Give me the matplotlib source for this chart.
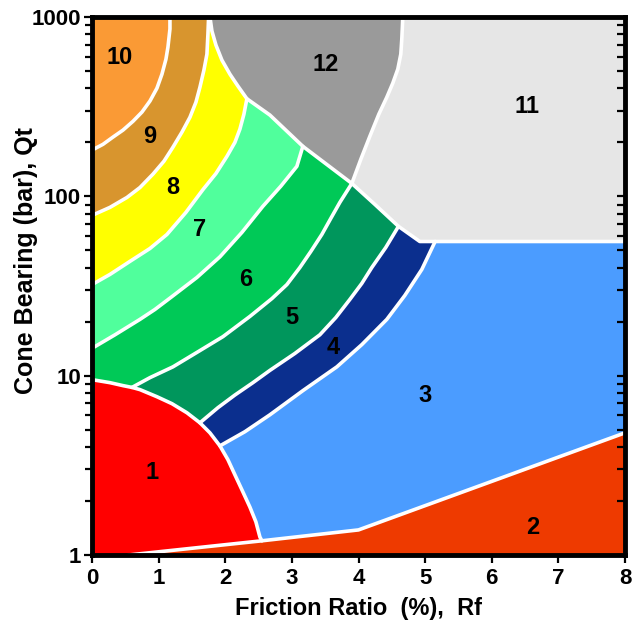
'''
Soil behaviour type chart: cone bearing against friction ratio, 12 zones.
'''
import matplotlib
matplotlib.use('Agg')
import matplotlib.pyplot as plt
from matplotlib.ticker import LogLocator, NullFormatter

# Zone boundaries, (Rf %, qt bar) vertices.
redTop = [(0, 9.5), (0.27, 9.14), (0.465, 8.8), (0.6, 8.6), (0.72, 8.36), (0.975, 7.63),
          (1.2, 6.98), (1.425, 6.21), (1.62, 5.46), (1.77, 4.8), (1.92, 4.06), (2.04, 3.4),
          (2.145, 2.8), (2.25, 2.31), (2.37, 1.85), (2.46, 1.53), (2.52, 1.26), (2.55, 1.2)]
baseLine = [(0.55, 1.0), (2.55, 1.2), (4.0, 1.38), (8.0, 4.8)]
b43 = [(1.92, 4.06), (2.295, 4.87), (2.67, 6.05), (3.165, 8.25), (3.675, 11.2), (4.05, 14.9),
       (4.425, 20.6), (4.695, 28), (4.95, 39.1), (5.15, 56)]
b54 = [(1.62, 5.46), (1.89, 6.63), (2.145, 7.8), (2.415, 9.14), (2.67, 10.7), (3.045, 13.3),
       (3.42, 16.9), (3.66, 21.1), (3.87, 26.6), (4.05, 32.7), (4.2, 40.1), (4.41, 51.9),
       (4.6, 68)]
b65 = [(0.6, 8.6), (0.87, 9.75), (1.215, 11.2), (1.62, 13.8), (1.965, 16.5), (2.37, 21.4),
       (2.7, 26.9), (2.925, 32.2), (3.12, 40.1), (3.285, 49.3), (3.45, 61.3), (3.585, 75.4),
       (3.72, 92.5), (3.9, 118)]
b76 = [(0, 14.2), (0.345, 16.9), (0.72, 20.6), (0.945, 23.4), (1.2, 27.6), (1.575, 35.3),
       (1.92, 46), (2.25, 62.9), (2.565, 88), (2.835, 114), (3.075, 147), (3.165, 190)]
b87 = [(0, 32.2), (0.27, 36.7), (0.57, 43.4), (0.87, 51.2), (1.125, 61.3), (1.41, 81.4),
       (1.665, 109), (1.86, 134), (2.025, 167), (2.145, 200), (2.22, 237), (2.28, 287),
       (2.325, 350)]
b98 = [(0, 78.3), (0.27, 86.8), (0.525, 98.6), (0.72, 112), (0.915, 133), (1.08, 157),
       (1.215, 188), (1.35, 228), (1.47, 276), (1.56, 335), (1.62, 406), (1.68, 506),
       (1.725, 621), (1.74, 804), (1.75, 1000)]
b109 = [(0, 181), (0.165, 195), (0.315, 214), (0.465, 234), (0.615, 262), (0.75, 295),
        (0.87, 340), (0.975, 401), (1.05, 480), (1.11, 582), (1.14, 680), (1.17, 857),
        (1.17, 1000)]
ridge = [(1.77, 1000), (1.8, 835), (1.86, 698), (1.95, 575), (2.07, 480), (2.19, 412),
         (2.325, 350), (2.67, 284), (3.165, 190), (3.9, 118), (4.245, 90.2), (4.6, 68),
         (4.92, 56), (8, 56)]
b1211 = [(3.9, 118), (4.035, 161), (4.17, 216), (4.305, 287), (4.425, 357), (4.515, 428),
         (4.59, 512), (4.635, 621), (4.65, 754), (4.665, 1000)]

zoneNames = ['1', '2', '3', '4', '5', '6', '7', '8', '9', '10', '11', '12']
zoneColors = ['#ff0000', '#ee3a00', '#4b9cff', '#0b2f8e', '#00965c', '#00c957',
              '#50ff9c', '#ffff00', '#d8952e', '#fa9a35', '#e6e6e6', '#9a9a9a']
labelRf = [0.9, 6.615, 4.995, 3.615, 3.0, 2.31, 1.62, 1.215, 0.87, 0.42, 6.525, 3.5]
labelQt = [2.87, 1.43, 7.8, 14.3, 21.0, 34.4, 65, 112, 216, 598, 316, 540]

def seg(curve, x0, x1):
  '''
  Vertices of a curve between two Rf values (curves run left to right).
  '''
  return [p for p in curve if x0 - 1e-9 <= p[0] <= x1 + 1e-9]

# Zone outlines built from the shared boundaries.
zones = [
  [(0, 1)] + redTop + seg(baseLine, 0.55, 2.55)[::-1],
  baseLine + [(8, 1)],
  seg(redTop, 1.92, 9) + seg(baseLine, 2.55, 9) + [(8, 56)] + b43[::-1],
  seg(redTop, 1.62, 1.92) + b43 + seg(ridge, 4.6, 5.15)[::-1] + b54[::-1],
  seg(redTop, 0.6, 1.62) + b54 + seg(ridge, 3.9, 4.6)[::-1] + b65[::-1],
  b76 + seg(ridge, 3.165, 3.9) + b65[::-1] + seg(redTop, 0, 0.6)[::-1],
  b87 + seg(ridge, 2.325, 3.165) + b76[::-1],
  b98 + seg(ridge, 1.77, 2.325) + b87[::-1],
  b109 + b98[::-1],
  [(0, 1000)] + b109[::-1],
  b1211 + [(8, 1000)] + seg(ridge, 3.9, 8)[::-1],
  seg(ridge, 1.77, 3.9) + b1211,
]
lines = [redTop, baseLine, b43, b54, b65, b76, b87, b98, b109, ridge, b1211]

font = ['Liberation Sans', 'DejaVu Sans']

# Get figure.
fig = plt.figure(figsize=(6.33, 6.39), dpi=100)
ax = fig.add_axes([92 / 633, 84 / 639, 533 / 633, 538 / 639])
ax.set_yscale('log')

# Zones and white boundaries.
for poly, clr in zip(zones, zoneColors):
  ax.fill([p[0] for p in poly], [p[1] for p in poly], color=clr, lw=0, zorder=1)
for ln in lines:
  ax.plot([p[0] for p in ln], [p[1] for p in ln], color='white', lw=2.6,
          solid_joinstyle='round', solid_capstyle='round', zorder=2)

# Zone numbers.
for name, x, y in zip(zoneNames, labelRf, labelQt):
  ax.text(x, y, name, ha='center', va='center', fontsize=17, fontweight='bold',
          family=font, zorder=3)

# Axes setup.
ax.set_xlim(0, 8)
ax.set_ylim(1, 1000)
ax.set_xticks(range(9))
ax.set_yticks([1, 10, 100, 1000])
ax.set_yticklabels(['1', '10', '100', '1000'])
ax.yaxis.set_minor_locator(LogLocator(base=10, subs=range(2, 10)))
ax.yaxis.set_minor_formatter(NullFormatter())
ax.tick_params(axis='x', which='major', direction='out', length=6, width=1.6, pad=3,
               labelsize=16)
ax.tick_params(axis='y', which='major', direction='out', length=6, width=1.6, pad=2,
               labelsize=16)
ax.tick_params(axis='y', which='minor', direction='out', length=5, width=1.6)
for lab in ax.get_xticklabels() + ax.get_yticklabels():
  lab.set_fontweight('bold')
  lab.set_family(font)
for sp in ax.spines.values():
  sp.set_linewidth(3.5)
  sp.set_zorder(5)

# Inward ticks along the right side.
axR = ax.twinx()
axR.set_yscale('log')
axR.set_ylim(1, 1000)
axR.yaxis.set_minor_locator(LogLocator(base=10, subs=range(2, 10)))
axR.tick_params(axis='y', which='both', direction='in', length=6, width=1.6,
                labelright=False)
for sp in axR.spines.values():
  sp.set_visible(False)

ax.set_xlabel('Friction Ratio  (%),  Rf', fontsize=17, fontweight='bold', family=font)
ax.xaxis.set_label_coords(0.5, -0.078)
ax.xaxis.label.set_va('top')
ax.set_ylabel('Cone Bearing (bar), Qt', fontsize=18, fontweight='bold', family=font)
ax.yaxis.set_label_coords(-0.102, 0.548)

# Save.
fig.savefig('out.png', dpi=100)
